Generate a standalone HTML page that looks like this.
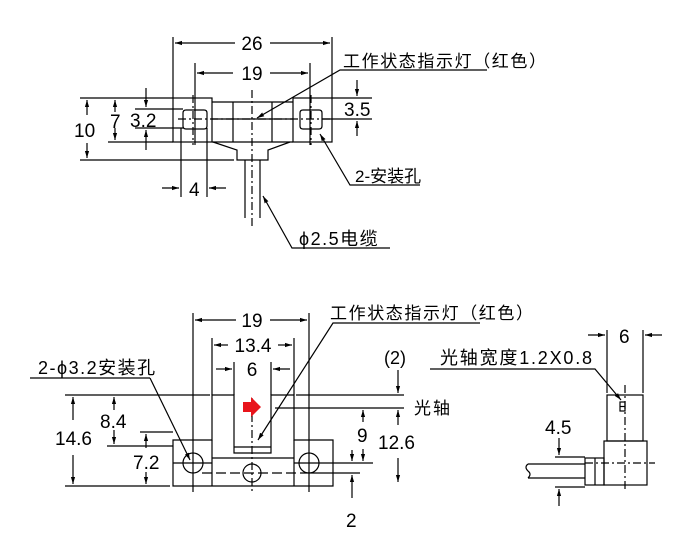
<!DOCTYPE html>
<html><head><meta charset="utf-8"><style>
html,body{margin:0;padding:0;background:#fff;}
svg{display:block;}
text{font-family:"Liberation Sans","Noto Sans CJK SC",sans-serif;fill:#000;}
</style></head><body>
<svg width="700" height="557" viewBox="0 0 700 557" xmlns="http://www.w3.org/2000/svg">
<defs>
<marker id="a" viewBox="0 0 10 10" refX="10" refY="5" markerWidth="6" markerHeight="6" orient="auto-start-reverse"><path d="M0,2 L10,5 L0,8 z" fill="#000"/></marker>
</defs>
<g stroke="#000" stroke-width="1.2" fill="none">
<line x1="173" y1="37" x2="173" y2="98"/><line x1="332" y1="37" x2="332" y2="98"/>
<line x1="175" y1="43" x2="235" y2="43" marker-start="url(#a)"/>
<line x1="270" y1="43" x2="330" y2="43" marker-end="url(#a)"/>
<line x1="195" y1="63" x2="195" y2="145"/><line x1="310" y1="63" x2="310" y2="145"/>
<line x1="197" y1="73" x2="233" y2="73" marker-start="url(#a)"/>
<line x1="270" y1="73" x2="308" y2="73" marker-end="url(#a)"/>
<rect x="173" y="98" width="39" height="44"/>
<rect x="293" y="98" width="39" height="44"/>
<path d="M212,102 H293 M212,142 H293 M233,102 V142 M272,102 V142 M212,119 H293"/>
<path d="M213,142 L237,150 V160 H268 V150 L290,142"/>
<path d="M245,160 V218 M260,160 V218"/>
<path d="M183,113 Q183,110 186,110 H204 Q207,110 207,113 V126 Q207,129 204,129 H186 Q183,129 183,126 Z"/>
<path d="M300,113 Q300,110 303,110 H319 Q322,110 322,113 V126 Q322,129 319,129 H303 Q300,129 300,126 Z"/>
<line x1="252" y1="90" x2="252" y2="228" stroke-dasharray="8,3,2,3"/>
<line x1="193" y1="95" x2="193" y2="145" stroke-dasharray="8,3,2,3"/>
<line x1="311" y1="95" x2="311" y2="145" stroke-dasharray="8,3,2,3"/>
<line x1="178" y1="119" x2="330" y2="119" stroke-dasharray="8,3,2,3"/>
<line x1="80" y1="98" x2="173" y2="98"/><line x1="80" y1="160" x2="234" y2="160"/>
<line x1="87" y1="115" x2="87" y2="100" marker-end="url(#a)"/>
<line x1="87" y1="143" x2="87" y2="158" marker-end="url(#a)"/>
<line x1="108" y1="142" x2="173" y2="142"/>
<line x1="115" y1="112" x2="115" y2="100" marker-end="url(#a)"/>
<line x1="115" y1="128" x2="115" y2="140" marker-end="url(#a)"/>
<line x1="135" y1="109" x2="183" y2="109"/><line x1="135" y1="128" x2="183" y2="128"/>
<line x1="146" y1="88" x2="146" y2="107" marker-end="url(#a)"/>
<line x1="146" y1="150" x2="146" y2="130" marker-end="url(#a)"/>
<line x1="181" y1="128" x2="181" y2="197"/><line x1="207" y1="128" x2="207" y2="197"/>
<line x1="162" y1="188" x2="179" y2="188" marker-end="url(#a)"/>
<line x1="226" y1="188" x2="209" y2="188" marker-end="url(#a)"/>
<line x1="332" y1="98" x2="372" y2="98"/><line x1="322" y1="119" x2="372" y2="119"/>
<line x1="357" y1="80" x2="357" y2="96" marker-end="url(#a)"/>
<line x1="357" y1="136" x2="357" y2="121" marker-end="url(#a)"/>
<path d="M487,70 H340 L257,118" marker-end="url(#a)"/>
<path d="M420,185 H350 L320,134" marker-end="url(#a)"/>
<path d="M390,248 H292 L263,196" marker-end="url(#a)"/>

<line x1="193" y1="313" x2="193" y2="492"/><line x1="309" y1="313" x2="309" y2="492"/>
<line x1="195" y1="320" x2="236" y2="320" marker-start="url(#a)"/>
<line x1="270" y1="320" x2="307" y2="320" marker-end="url(#a)"/>
<line x1="212" y1="338" x2="212" y2="395"/><line x1="294" y1="338" x2="294" y2="395"/>
<line x1="214" y1="345" x2="228" y2="345" marker-start="url(#a)"/>
<line x1="278" y1="345" x2="292" y2="345" marker-end="url(#a)"/>
<line x1="234" y1="362" x2="234" y2="395"/><line x1="271" y1="362" x2="271" y2="395"/>
<line x1="216" y1="369" x2="232" y2="369" marker-end="url(#a)"/>
<line x1="290" y1="369" x2="273" y2="369" marker-end="url(#a)"/>
<path d="M173,440 H212 V395 H234 V453 H271 V395 H294 V440 H333 V486 H173 Z"/>
<path d="M212,440 V486 M294,440 V486 M234,447 H271 M212,458 H294 M173,463 H212 M294,463 H333"/>
<circle cx="193" cy="463" r="10"/><circle cx="309" cy="463" r="10"/><circle cx="252" cy="473" r="9"/>
<line x1="252" y1="398" x2="252" y2="492" stroke-dasharray="8,3,2,3"/>
<line x1="202" y1="473" x2="302" y2="473" stroke-dasharray="10,4"/>
<line x1="65" y1="395" x2="210" y2="395"/><line x1="296" y1="395" x2="404" y2="395"/>
<line x1="275" y1="408" x2="404" y2="408"/>
<line x1="65" y1="486" x2="170" y2="486"/>
<line x1="73" y1="420" x2="73" y2="397" marker-end="url(#a)"/>
<line x1="73" y1="455" x2="73" y2="484" marker-end="url(#a)"/>
<line x1="107" y1="446" x2="173" y2="446"/>
<line x1="114" y1="410" x2="114" y2="397" marker-end="url(#a)"/>
<line x1="114" y1="430" x2="114" y2="444" marker-end="url(#a)"/>
<line x1="140" y1="432" x2="173" y2="432"/>
<line x1="146" y1="448" x2="146" y2="434" marker-end="url(#a)"/>
<line x1="146" y1="472" x2="146" y2="484" marker-end="url(#a)"/>
<line x1="333" y1="463" x2="373" y2="463"/>
<line x1="302" y1="473" x2="360" y2="473"/>
<line x1="363" y1="422" x2="363" y2="410" marker-end="url(#a)"/>
<line x1="363" y1="449" x2="363" y2="461" marker-end="url(#a)"/>
<line x1="398" y1="425" x2="398" y2="410" marker-end="url(#a)"/>
<line x1="398" y1="458" x2="398" y2="482" marker-end="url(#a)"/>
<line x1="398" y1="370" x2="398" y2="393" marker-end="url(#a)"/>
<line x1="352" y1="450" x2="352" y2="461" marker-end="url(#a)"/>
<line x1="352" y1="498" x2="352" y2="475" marker-end="url(#a)"/>
<path d="M150,378 H30" /><path d="M150,378 L190,460" marker-end="url(#a)"/>
<path d="M480,323 H333 L258,440" marker-end="url(#a)"/>

<line x1="607" y1="330" x2="607" y2="393"/><line x1="643" y1="330" x2="643" y2="393"/>
<line x1="588" y1="335" x2="605" y2="335" marker-end="url(#a)"/>
<line x1="662" y1="335" x2="645" y2="335" marker-end="url(#a)"/>
<rect x="607" y="395" width="36" height="46"/>
<rect x="604" y="441" width="43" height="44"/>
<rect x="620" y="402" width="5" height="9"/><line x1="620" y1="406.5" x2="625" y2="406.5"/>
<path d="M430,369 H595 L621,400" marker-end="url(#a)"/>
<rect x="585" y="458" width="19" height="27"/><line x1="595" y1="458" x2="595" y2="485"/>
<path d="M585,464 H528 M585,478 H528"/>
<path d="M528,464 Q524,467 528,471 Q532,474 528,478"/>
<line x1="625" y1="385" x2="625" y2="492" stroke-dasharray="8,3,2,3"/>
<line x1="585" y1="463" x2="655" y2="463" stroke-dasharray="8,3,2,3"/>
<line x1="555" y1="457" x2="585" y2="457"/><line x1="555" y1="487" x2="585" y2="487"/>
<line x1="559" y1="438" x2="559" y2="455" marker-end="url(#a)"/>
<line x1="559" y1="506" x2="559" y2="489" marker-end="url(#a)"/>
</g>
<path d="M243,402 H251 V397 L261,407 L251,417 V412 H243 Z" fill="#e8141b"/>
<g font-size="19">
<text x="252" y="50" text-anchor="middle" stroke="#fff" stroke-width="6" paint-order="stroke">26</text>
<text x="252" y="80" text-anchor="middle" stroke="#fff" stroke-width="6" paint-order="stroke">19</text>
<text x="74" y="137">10</text>
<text x="110" y="128">7</text>
<text x="130" y="127">3.2</text>
<text x="189" y="196">4</text>
<text x="344" y="116">3.5</text>
<text x="252" y="327" text-anchor="middle" stroke="#fff" stroke-width="6" paint-order="stroke">19</text>
<text x="253" y="352" text-anchor="middle">13.4</text>
<text x="252" y="376" text-anchor="middle">6</text>
<text x="55" y="445">14.6</text>
<text x="100" y="428">8.4</text>
<text x="133" y="469">7.2</text>
<text x="357" y="442">9</text>
<text x="378" y="449">12.6</text>
<text x="346" y="527">2</text>
<text x="619" y="343">6</text>
<text x="545" y="434">4.5</text>
</g>
<g font-size="17">
<text x="343" y="67" letter-spacing="1.6">工作状态指示灯（红色）</text>
<text x="355" y="182">2-安装孔</text>
<text x="299" y="245" font-size="18" letter-spacing="1.5">ϕ2.5电缆</text>
<text x="330" y="319" letter-spacing="1.6">工作状态指示灯（红色）</text>
<text x="38" y="374" font-size="18" letter-spacing="1.5">2-ϕ3.2安装孔</text>
<text x="384" y="364" font-size="18">(2)</text>
<text x="414" y="414" letter-spacing="2">光轴</text>
<text x="440" y="364" font-size="18" letter-spacing="1.8">光轴宽度1.2X0.8</text>
</g>
</svg>
</body></html>
